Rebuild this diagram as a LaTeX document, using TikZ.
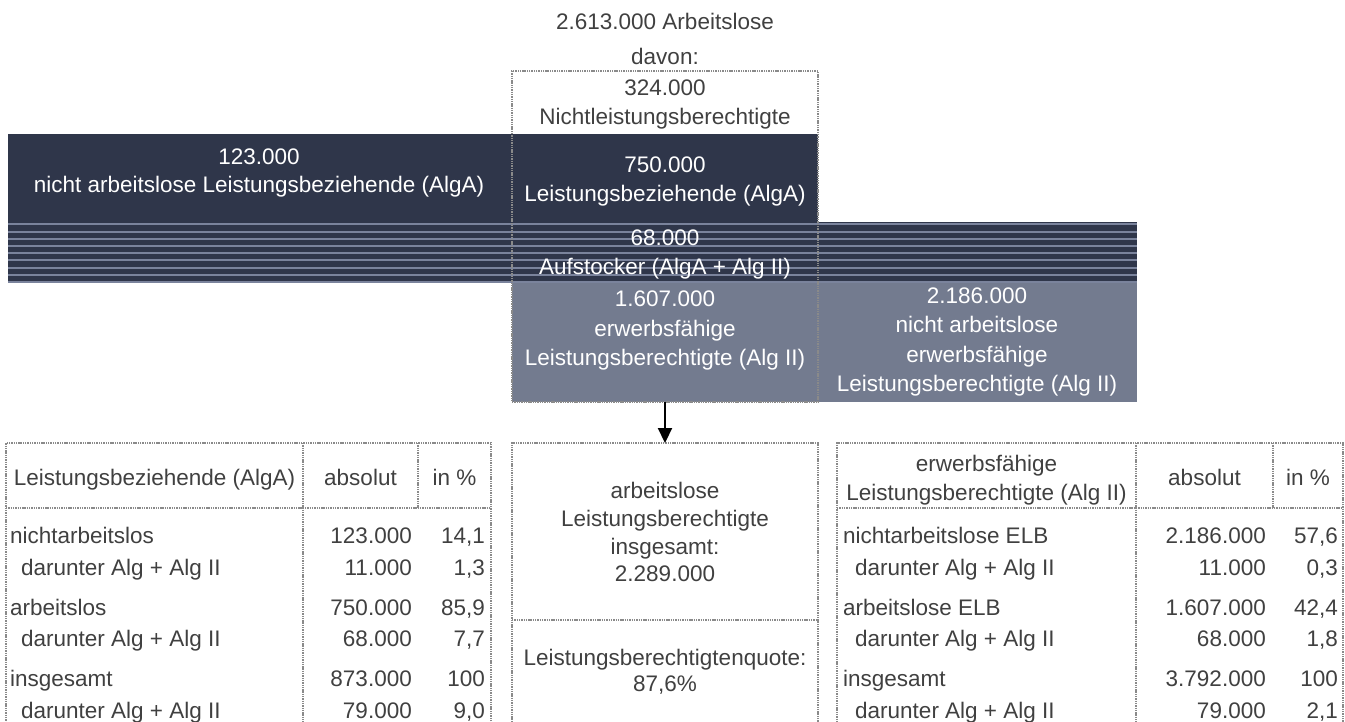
\documentclass[tikz,border=0pt]{standalone}
\usepackage{fontspec}
\setmainfont{Liberation Sans}
\usetikzlibrary{arrows.meta}
\definecolor{navy}{HTML}{2F364A}
\definecolor{slate}{HTML}{737B8F}
\definecolor{stripecol}{HTML}{7A839C}
\definecolor{txt}{HTML}{404040}
\definecolor{framecol}{HTML}{8A8A8A}
\begin{document}
\begin{tikzpicture}[x=1pt,y=-1pt,
  lbl/.style={anchor=base, inner sep=0pt, font=\fontsize{22.5}{27}\selectfont, text=txt},
  wl/.style={lbl, text=white},
  ll/.style={lbl, anchor=base west},
  rl/.style={lbl, anchor=base east},
  frm/.style={draw=framecol, line width=2.4pt, dash pattern=on 1.4pt off 0.9pt},
  boxframe/.style={frm, inner sep=0pt, outer sep=0pt},
  stripeline/.style={draw=stripecol, line width=2pt},
  arr/.style={line width=2.2pt, -{Triangle[width=14pt,length=15pt]}}]
\useasboundingbox (0,0) rectangle (1345,722);
\begin{scope}
\clip (0,0) rectangle (1345,722);
% filled bands
\fill[navy] (8,134) rectangle (818,222);
\fill[navy] (8,222) rectangle (1137,283);
\foreach \k in {0,...,8} \draw[stripeline] (8,{224.5+7.2*\k}) -- (1137,{224.5+7.2*\k});
\fill[slate] (512,283) rectangle (1137,402);
% frames
\node[boxframe, minimum width=306pt, minimum height=331pt] (cbox) at (665,236.5) {};
\node[boxframe, minimum width=485pt, minimum height=297pt] (ltab) at (248.5,591.5) {};
\node[boxframe, minimum width=306pt, minimum height=297pt] (mbox) at (665,591.5) {};
\node[boxframe, minimum width=506pt, minimum height=297pt] (rtab) at (1090,591.5) {};
\draw[frm] (6,508) -- (491,508);
\draw[frm] (303,443) -- (303,740);
\draw[frm] (418,443) -- (418,508);
\draw[frm] (512,620) -- (818,620);
\draw[frm] (837,508) -- (1343,508);
\draw[frm] (1136,443) -- (1136,740);
\draw[frm] (1273,443) -- (1273,508);
\end{scope}
% arrow
\draw[arr] (cbox.south) -- (mbox.north);
% top texts
\node[lbl] (t1) at (665,30) {2.613.000 Arbeitslose};
\node[lbl] (t2) at (665,65) {davon:};
\node[lbl] (c1) at (665,96) {324.000};
\node[lbl] (c2) at (665,125) {Nichtleistungsberechtigte};
\node[wl] (c3) at (665,173) {750.000};
\node[wl] (c4) at (665,202) {Leistungsbeziehende (AlgA)};
\node[wl] (l1) at (259,165) {123.000};
\node[wl] (l2) at (259,193) {nicht arbeitslose Leistungsbeziehende (AlgA)};
\node[wl] (s1) at (665,246) {68.000};
\node[wl] (s2) at (665,275) {Aufstocker (AlgA + Alg II)};
\node[wl] (e1) at (665,307) {1.607.000};
\node[wl] (e2) at (665,336) {erwerbsfähige};
\node[wl] (e3) at (665,365) {Leistungsberechtigte (Alg II)};
\node[wl] (r1) at (977,304) {2.186.000};
\node[wl] (r2) at (977,333) {nicht arbeitslose};
\node[wl] (r3) at (977,362) {erwerbsfähige};
\node[wl] (r4) at (977,391) {Leistungsberechtigte (Alg II)};
% middle box
\node[lbl] (m1) at (665,498) {arbeitslose};
\node[lbl] (m2) at (665,526) {Leistungsberechtigte};
\node[lbl] (m3) at (665,554) {insgesamt:};
\node[lbl] (m4) at (665,581) {2.289.000};
\node[lbl] (m5) at (665,665) {Leistungsberechtigtenquote:};
\node[lbl] (m6) at (665,691) {87,6\%};
% left table
\node[lbl] (lh1) at (154.5,485) {Leistungsbeziehende (AlgA)};
\node[lbl] (lh2) at (360.5,485) {absolut};
\node[lbl] (lh3) at (454.5,485) {in \%};
\node[ll] (la1) at (10,543) {nichtarbeitslos};
\node[ll] (la2) at (21,575) {darunter Alg + Alg II};
\node[ll] (la3) at (10,615) {arbeitslos};
\node[ll] (la4) at (21,646) {darunter Alg + Alg II};
\node[ll] (la5) at (10,686) {insgesamt};
\node[ll] (la6) at (21,718) {darunter Alg + Alg II};
\node[rl] (lb1) at (412,543) {123.000};
\node[rl] (lb2) at (412,575) {11.000};
\node[rl] (lb3) at (412,615) {750.000};
\node[rl] (lb4) at (412,646) {68.000};
\node[rl] (lb5) at (412,686) {873.000};
\node[rl] (lb6) at (412,718) {79.000};
\node[rl] (lc1) at (485,543) {14,1};
\node[rl] (lc2) at (485,575) {1,3};
\node[rl] (lc3) at (485,615) {85,9};
\node[rl] (lc4) at (485,646) {7,7};
\node[rl] (lc5) at (485,686) {100};
\node[rl] (lc6) at (485,718) {9,0};
% right table
\node[lbl] (rh1) at (986.5,471) {erwerbsfähige};
\node[lbl] (rh2) at (986.5,500) {Leistungsberechtigte (Alg II)};
\node[lbl] (rh3) at (1204.5,485) {absolut};
\node[lbl] (rh4) at (1308,485) {in \%};
\node[ll] (ra1) at (843,543) {nichtarbeitslose ELB};
\node[ll] (ra2) at (855,575) {darunter Alg + Alg II};
\node[ll] (ra3) at (843,615) {arbeitslose ELB};
\node[ll] (ra4) at (855,646) {darunter Alg + Alg II};
\node[ll] (ra5) at (843,686) {insgesamt};
\node[ll] (ra6) at (855,718) {darunter Alg + Alg II};
\node[rl] (rb1) at (1266,543) {2.186.000};
\node[rl] (rb2) at (1266,575) {11.000};
\node[rl] (rb3) at (1266,615) {1.607.000};
\node[rl] (rb4) at (1266,646) {68.000};
\node[rl] (rb5) at (1266,686) {3.792.000};
\node[rl] (rb6) at (1266,718) {79.000};
\node[rl] (rc1) at (1338,543) {57,6};
\node[rl] (rc2) at (1338,575) {0,3};
\node[rl] (rc3) at (1338,615) {42,4};
\node[rl] (rc4) at (1338,646) {1,8};
\node[rl] (rc5) at (1338,686) {100};
\node[rl] (rc6) at (1338,718) {2,1};
\end{tikzpicture}
\end{document}
